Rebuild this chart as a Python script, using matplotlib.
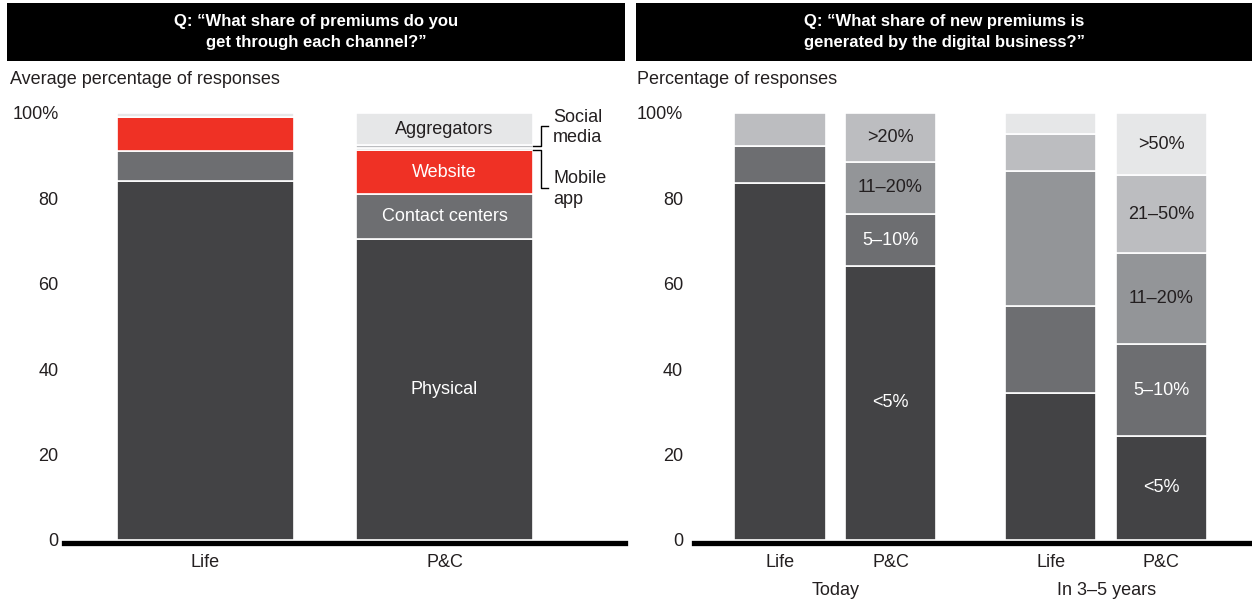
import numpy as np
import matplotlib
matplotlib.use("Agg")
import matplotlib.pyplot as plt
from matplotlib.patches import Rectangle

plt.rcParams['font.family'] = ['Liberation Sans', 'DejaVu Sans']

# left panel: share of premiums by channel
channels = ["Physical", "Contact centers", "Website", "Mobile app", "Social media", "Aggregators"]
life_channel = [84, 7, 8, 0, 0, 1]
pc_channel = [70.5, 10.5, 10.3, 0.6, 0.6, 7.5]
left_cats = ["Life", "P&C"]

# right panel: digital share of new premiums
today_bands = ["<5%", "5–10%", "11–20%", ">20%"]
today_life = [83.5, 8.8, 0, 7.7]
today_pc = [64.2, 12.1, 12.3, 11.4]
future_bands = ["<5%", "5–10%", "11–20%", "21–50%", ">50%"]
future_life = [34.5, 20.3, 31.6, 8.7, 4.9]
future_pc = [24.4, 21.4, 21.3, 18.3, 14.6]
right_cats = ["Life", "P&C", "Life", "P&C"]
groups = ["Today", "In 3–5 years"]

DARK = "#434345"
G2 = "#6d6e71"
G3 = "#939598"
G4 = "#bcbdc0"
G5 = "#e6e7e8"
RED = "#ef3125"
TXT = "#231f20"

ch_colors = [DARK, G2, RED, G3, G4, G5]
ch_text = ["white", "white", "white", None, None, TXT]
today_colors = [DARK, G2, G3, G4]
future_colors = [DARK, G2, G3, G4, G5]
band_text = {"<5%": "white", "5–10%": "white", "11–20%": TXT, ">20%": TXT,
             "21–50%": TXT, ">50%": TXT}

W, H = 1252, 604
fig = plt.figure(figsize=(W / 100, H / 100), dpi=100)


def stack(ax, x, vals, colors, width):
    bottom = 0
    for v, c in zip(vals, colors):
        ax.bar(x, v, width, bottom=bottom, color=c, edgecolor="white", linewidth=1.2, zorder=2)
        bottom += v


def style(ax):
    for s in ax.spines.values():
        s.set_visible(False)
    ax.set_ylim(0, 100)
    ax.set_yticks([0, 20, 40, 60, 80, 100])
    ax.set_yticklabels(["0", "20", "40", "60", "80", "100%"])
    ax.tick_params(axis="both", length=0, labelsize=13, labelcolor=TXT)
    ax.tick_params(axis="x", pad=10)
    ax.axhline(-0.6, color="black", lw=3.8, zorder=3, clip_on=False)


# ---- left panel
ax1 = fig.add_axes([64 / W, (H - 540) / H, (625 - 64) / W, (540 - 113) / H])
lx = np.array([0, 1])
lw_ = 0.74
stack(ax1, lx[0], life_channel, ch_colors, lw_)
stack(ax1, lx[1], pc_channel, ch_colors, lw_)
ax1.set_xlim(-0.592, 1.755)
style(ax1)
ax1.tick_params(axis="y", pad=4)
ax1.set_xticks(lx)
ax1.set_xticklabels(left_cats)

cum = np.concatenate([[0], np.cumsum(pc_channel)])
for i, name in enumerate(channels):
    if ch_text[i] is None:
        continue
    ax1.text(lx[1], (cum[i] + cum[i + 1]) / 2, name, ha="center", va="center",
             color=ch_text[i], fontsize=13, zorder=4)

# brackets for the thin channels
edge = lx[1] + lw_ / 2
bx, tx = edge + 0.0325, edge + 0.063
social_y = (cum[4] + cum[5]) / 2 + 0.1
mobile_y = (cum[3] + cum[4]) / 2 - 0.3
ax1.plot([edge, bx, bx, tx], [social_y, social_y, 97, 97], color="black", lw=1, clip_on=False)
ax1.plot([edge, bx, bx, tx], [mobile_y, mobile_y, 82.5, 82.5], color="black", lw=1, clip_on=False)
ax1.text(1.454, 96.6, "Social\nmedia", ha="left", va="center", fontsize=13, color=TXT,
         linespacing=1.3)
ax1.text(1.454, 82.2, "Mobile\napp", ha="left", va="center", fontsize=13, color=TXT,
         linespacing=1.3)

# ---- right panel
ax2 = fig.add_axes([694 / W, (H - 540) / H, (W - 694) / W, (540 - 113) / H])
rx = np.array([0, 1, 2.45, 3.45])
rw = 0.824
stack(ax2, rx[0], today_life, today_colors, rw)
stack(ax2, rx[1], today_pc, today_colors, rw)
stack(ax2, rx[2], future_life, future_colors, rw)
stack(ax2, rx[3], future_pc, future_colors, rw)
ax2.set_xlim(-0.778, 4.27)
style(ax2)
ax2.tick_params(axis="y", pad=8)
ax2.set_xticks(rx)
ax2.set_xticklabels(right_cats)

for x, vals, bands in [(rx[1], today_pc, today_bands), (rx[3], future_pc, future_bands)]:
    c = np.concatenate([[0], np.cumsum(vals)])
    for i, b in enumerate(bands):
        ax2.text(x, (c[i] + c[i + 1]) / 2, b, ha="center", va="center",
                 color=band_text[b], fontsize=13, zorder=4)

tr = ax2.get_xaxis_transform()
ax2.text((rx[0] + rx[1]) / 2, -0.118, groups[0], transform=tr, ha="center", va="center",
         fontsize=13, color=TXT)
ax2.text((rx[2] + rx[3]) / 2, -0.118, groups[1], transform=tr, ha="center", va="center",
         fontsize=13, color=TXT)

# ---- headers
for x0, x1, title in [(7, 625, "Q: \u201cWhat share of premiums do you\nget through each channel?\u201d"),
                      (636, 1252, "Q: \u201cWhat share of new premiums is\ngenerated by the digital business?\u201d")]:
    fig.add_artist(Rectangle((x0 / W, 1 - 61 / H), (x1 - x0) / W, 58 / H,
                             transform=fig.transFigure, color="black", lw=0))
    fig.text((x0 + x1) / 2 / W, 1 - 32 / H, title, ha="center", va="center", color="white",
             fontsize=12, fontweight="bold", linespacing=1.45)

fig.text(10 / W, 1 - 79 / H, "Average percentage of responses", ha="left", va="center",
         fontsize=13, color=TXT)
fig.text(637 / W, 1 - 79 / H, "Percentage of responses", ha="left", va="center",
         fontsize=13, color=TXT)

fig.savefig("out.png", dpi=100)
